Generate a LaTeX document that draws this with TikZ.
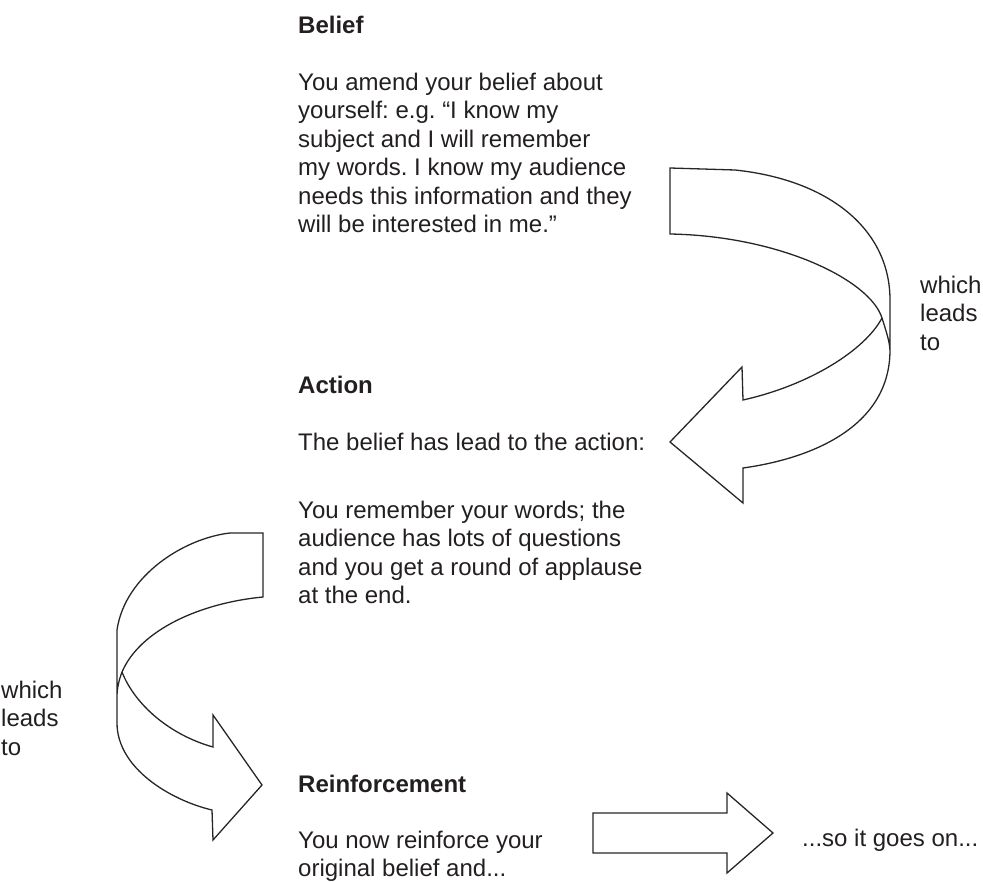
\documentclass[tikz,border=0pt]{standalone}
\usepackage{fontspec}
\setmainfont{Liberation Sans}
\frenchspacing
\definecolor{inkgray}{RGB}{35,31,32}
\tikzset{
  blockarrow/.style={draw=black!85, line width=1.3pt, line join=miter},
  heading/.style={font=\fontsize{24}{28.4}\selectfont\bfseries}
}
\begin{document}
\begin{tikzpicture}[x=1pt, y=-1pt, every node/.style={font=\fontsize{24}{28.4}\selectfont, text=inkgray, inner sep=0pt, anchor=north west, align=left}]
            \useasboundingbox (0,0) rectangle (983,882);

            \node[heading] (belief) at (298,16) {Belief};
            \node (belieftext) at (298,73) {You amend your belief about\\yourself: e.g. “I know my\\subject and I will remember\\my words. I know my audience\\needs this information and they\\will be interested in me.”};

            \node[heading] (action) at (298,376) {Action};
            \node (actiontext) at (298,433) {The belief has lead to the action:};
            \node (actionmore) at (298,501) {You remember your words; the\\audience has lots of questions\\and you get a round of applause\\at the end.};

            \node[heading] (reinf) at (298,775) {Reinforcement};
            \node (reinftext) at (298,831) {You now reinforce your\\original belief and...};
            \node (goeson) at (802,829) {...so it goes on...};

            \node (leadsright) at (920,276) {which\\leads\\to};
            \node (leadsleft) at (1,681) {which\\leads\\to};

            % belief -> action
            \draw[blockarrow] (890,352) .. controls (890,342) and (886,331) .. (882,318)
                .. controls (870,280) and (780,236) .. (670,234) -- (670,168) -- (735,170)
                .. controls (830,180) and (890,230) .. (890,300) -- (890,350)
                .. controls (890,425) and (815,458) .. (743,468) -- (743,503) -- (670,442)
                -- (742,367) -- (743,400) .. controls (810,385) and (865,350) .. (882,318);

            % action -> reinforcement
            \draw[blockarrow] (117,697) .. controls (117,688) and (119,680) .. (122,672)
                .. controls (140,630) and (200,603) .. (263,597) -- (263,533) -- (230,533)
                .. controls (185,538) and (125,575) .. (117,630) -- (117,723)
                .. controls (117,768) and (170,800) .. (212,810) -- (213,840) -- (262,785)
                -- (213,715) -- (213,747) .. controls (170,735) and (135,705) .. (122,672);

            \draw[blockarrow] (593,813) -- (727,813) -- (727,793) -- (773,833)
                -- (727,873) -- (727,853) -- (593,853) -- cycle;
        \end{tikzpicture}
\end{document}
